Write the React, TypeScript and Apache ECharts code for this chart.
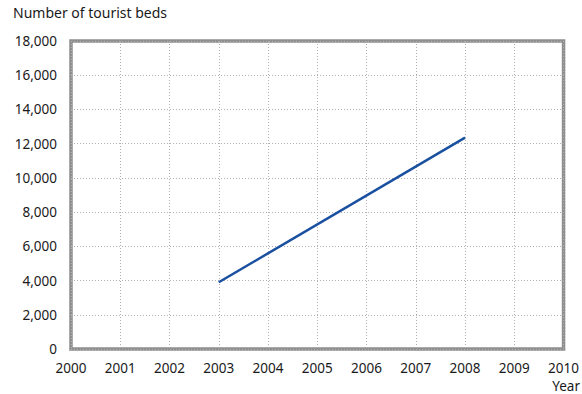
import React, { useEffect, useRef } from "react";
import * as echarts from "echarts";

const years: number[] = [2003, 2008];
const beds: number[] = [3900, 12350];
const yTitle = "Number of tourist beds";
const xTitle = "Year";

export default function App() {
  const ref = useRef<HTMLDivElement>(null);
  useEffect(() => {
    if (!ref.current) return;
    const chart = echarts.init(ref.current, undefined, { renderer: "svg" });
    const font = "'Noto Sans', sans-serif";
    chart.setOption({
      animation: false,
      backgroundColor: "#ffffff",
      grid: {
        left: 71,
        top: 41,
        right: 16,
        bottom: 45,
        show: true,
        borderColor: "#8f8f8f",
        borderWidth: 3.5,
        containLabel: false,
      },
      xAxis: {
        type: "value",
        min: 2000,
        max: 2010,
        interval: 1,
        axisLine: { show: false },
        axisTick: { show: false },
        axisLabel: {
          color: "#1a1a1a",
          fontFamily: font,
          fontSize: 13.5,
          lineHeight: 14,
          margin: 12,
          hideOverlap: false,
          formatter: (v: number) => String(v),
        },
        splitLine: { show: true, lineStyle: { color: "#b0b0b0", type: [1, 2], width: 1 } },
      },
      yAxis: {
        type: "value",
        min: 0,
        max: 18000,
        interval: 2000,
        axisLine: { show: false },
        axisTick: { show: false },
        axisLabel: {
          color: "#1a1a1a",
          fontFamily: font,
          fontSize: 13.5,
          margin: 14,
          formatter: (v: number) => v.toLocaleString("en-US"),
        },
        splitLine: { show: true, lineStyle: { color: "#b0b0b0", type: [1, 2], width: 1 } },
      },
      graphic: [
        {
          type: "text",
          left: 13,
          top: 5,
          style: { text: yTitle, fill: "#1a1a1a", font: `14px ${font}` },
        },
        {
          type: "text",
          right: 2,
          top: 379,
          style: { text: xTitle, fill: "#1a1a1a", font: `13.5px ${font}`, lineHeight: 14 },
        },
      ],
      series: [
        {
          type: "line",
          data: years.map((y, i) => [y, beds[i]]),
          showSymbol: false,
          lineStyle: { color: "#1a50a0", width: 2.5 },
        },
      ],
    });
    return () => chart.dispose();
  }, []);
  return (
    <div
      ref={ref}
      style={{ position: "fixed", left: 0, top: 0, width: 582, height: 394 }}
    />
  );
}
